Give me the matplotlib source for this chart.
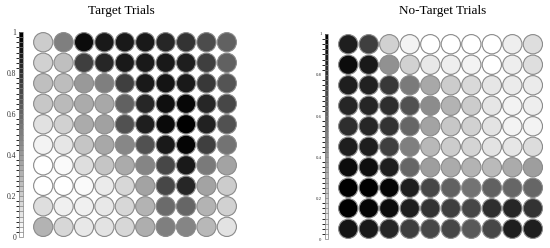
import numpy as np
import matplotlib.pyplot as plt
from matplotlib.patches import Circle
from matplotlib.colors import BoundaryNorm, Normalize
from matplotlib.cm import ScalarMappable

# values per circle, rows top to bottom (0 = white, 1 = black)
target = [
    [0.20, 0.50, 0.95, 0.90, 0.90, 0.90, 0.85, 0.80, 0.70, 0.62],
    [0.18, 0.25, 0.75, 0.85, 0.90, 0.90, 0.90, 0.88, 0.75, 0.62],
    [0.25, 0.26, 0.40, 0.50, 0.75, 0.90, 0.92, 0.90, 0.78, 0.67],
    [0.22, 0.27, 0.33, 0.34, 0.62, 0.85, 0.94, 0.97, 0.85, 0.72],
    [0.12, 0.18, 0.33, 0.37, 0.68, 0.88, 0.96, 1.00, 0.87, 0.68],
    [0.05, 0.10, 0.23, 0.34, 0.47, 0.68, 0.90, 0.98, 0.75, 0.55],
    [0.00, 0.02, 0.13, 0.23, 0.33, 0.48, 0.72, 0.90, 0.52, 0.36],
    [0.00, 0.00, 0.02, 0.08, 0.16, 0.36, 0.72, 0.85, 0.36, 0.20],
    [0.13, 0.06, 0.06, 0.09, 0.16, 0.30, 0.58, 0.60, 0.30, 0.18],
    [0.30, 0.16, 0.09, 0.11, 0.16, 0.32, 0.50, 0.48, 0.28, 0.11],
]
no_target = [
    [0.88, 0.75, 0.18, 0.05, 0.00, 0.00, 0.00, 0.00, 0.07, 0.13],
    [0.95, 0.90, 0.43, 0.18, 0.09, 0.07, 0.05, 0.00, 0.07, 0.13],
    [0.88, 0.87, 0.78, 0.52, 0.34, 0.20, 0.15, 0.10, 0.08, 0.08],
    [0.85, 0.85, 0.82, 0.68, 0.45, 0.30, 0.20, 0.10, 0.05, 0.07],
    [0.82, 0.85, 0.80, 0.60, 0.36, 0.22, 0.18, 0.11, 0.05, 0.05],
    [0.88, 0.88, 0.75, 0.50, 0.28, 0.20, 0.17, 0.11, 0.10, 0.14],
    [0.95, 0.94, 0.88, 0.60, 0.38, 0.33, 0.30, 0.27, 0.33, 0.38],
    [1.00, 1.00, 0.98, 0.88, 0.72, 0.62, 0.55, 0.62, 0.60, 0.60],
    [1.00, 0.98, 0.95, 0.88, 0.80, 0.75, 0.72, 0.82, 0.85, 0.80],
    [0.92, 0.90, 0.85, 0.75, 0.72, 0.72, 0.65, 0.72, 0.88, 0.88],
]
titles = ["Target Trials", "No-Target Trials"]
cbar_ticks = [0, 0.2, 0.4, 0.6, 0.8, 1]
cbar_labels = ["0", "0.2", "0.4", "0.6", "0.8", "1"]

cmap = plt.get_cmap("gray_r")
norm = Normalize(0, 1)

fig = plt.figure(figsize=(5.5, 2.48), dpi=100)

# [grid axes], [colorbar axes], title x, tick font size
panels = [
    ([0.060, 0.044, 0.371, 0.827], [0.035, 0.044, 0.007, 0.827], 0.22, 5.5),
    ([0.6145, 0.036, 0.373, 0.827], [0.590, 0.036, 0.007, 0.827], 0.805, 3.5),
]

for data, title, (grid_pos, cb_pos, tx, fs) in zip([target, no_target], titles, panels):
    ax = fig.add_axes(grid_pos)
    vals = np.array(data)
    n = vals.shape[0]
    for r in range(n):
        for c in range(vals.shape[1]):
            ax.add_patch(Circle((c + 0.5, n - r - 0.5), 0.47,
                                facecolor=cmap(norm(vals[r, c])),
                                edgecolor="#8a8a8a", linewidth=0.8))
    ax.set_xlim(0, vals.shape[1])
    ax.set_ylim(0, n)
    ax.axis("off")
    fig.text(tx, 0.955, title, ha="center", va="center",
             family="Liberation Serif", fontsize=9.5)

    cax = fig.add_axes(cb_pos)
    bounds = np.linspace(0, 1, 41)
    sm = ScalarMappable(norm=BoundaryNorm(bounds, 256), cmap=cmap)
    cb = fig.colorbar(sm, cax=cax, drawedges=True, ticks=cbar_ticks)
    cb.dividers.set_color("#808080")
    cb.dividers.set_linewidth(0.5)
    cb.outline.set_edgecolor("#808080")
    cb.outline.set_linewidth(0.5)
    cax.yaxis.set_ticks_position("left")
    cax.set_yticklabels(cbar_labels, family="Liberation Serif", fontsize=fs, color="#333333")
    cax.tick_params(length=0, pad=2)

fig.savefig("out.png", dpi=100)
